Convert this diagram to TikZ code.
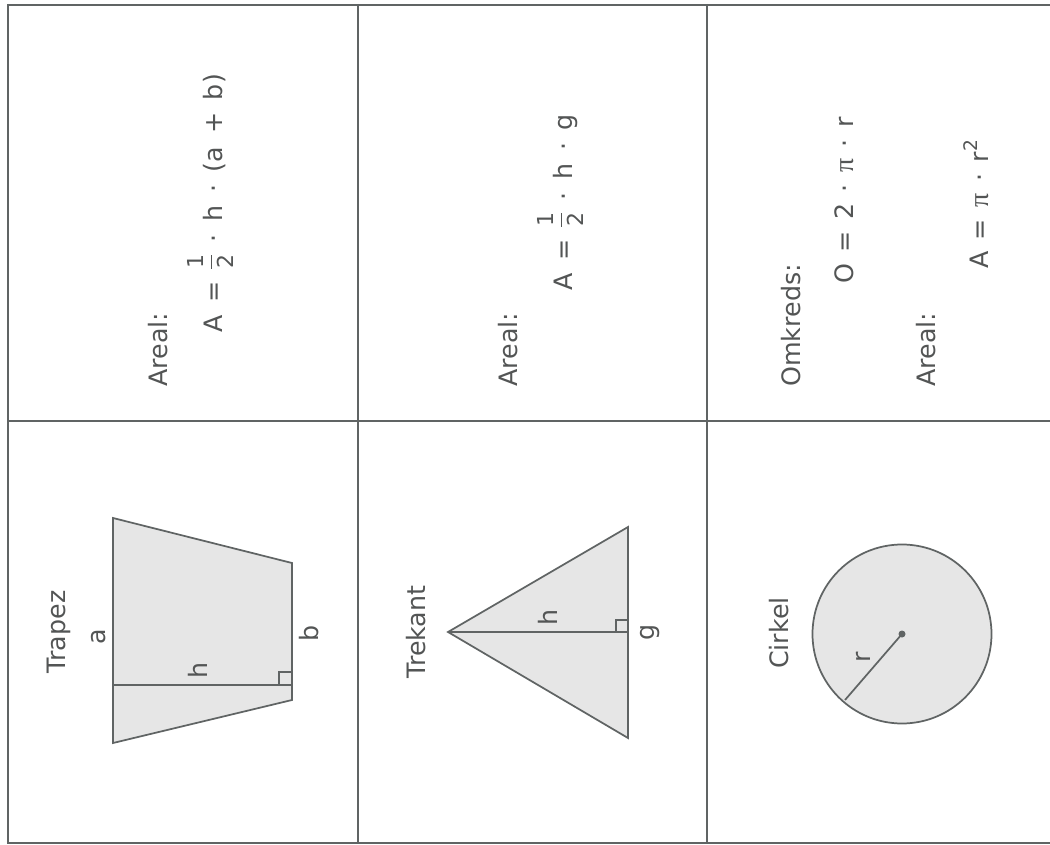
\documentclass[tikz,border=0pt]{standalone}
\usepackage{fontspec}
\setmainfont{DejaVu Sans}
\newfontfamily\pifont{Liberation Serif}
\definecolor{txt}{HTML}{535555}
\definecolor{ln}{HTML}{606464}
\definecolor{shp}{HTML}{E6E6E6}
\newlength\digw
\newcommand{\fmlfont}{\fontsize{19}{23}\selectfont\spaceskip=0.45em plus 0pt minus 0pt\relax}
\newcommand{\fmlfontw}{\fontsize{19}{23}\selectfont\spaceskip=0.5em plus 0pt minus 0pt\relax}
\tikzset{
  tbl/.style={draw=ln, line width=2pt},
  figshape/.style={draw=ln, fill=shp, line width=1.3pt, line join=miter},
  thinline/.style={draw=ln, line width=1.3pt},
  lbl/.style={text=txt, font=\fontsize{19}{23}\selectfont, rotate=90, inner sep=0pt, anchor=base},
  txtw/.style={text=txt, font=\fontsize{19}{23}\selectfont, rotate=90, inner sep=0pt, anchor=base west},
  fml/.style={txtw, font={\fmlfont}},
  fmlw/.style={txtw, font={\fmlfontw}},
}
\newcommand{\half}{{\fontsize{16.5}{16.5}\selectfont\settowidth{\digw}{2}%
  \makebox[\digw][c]{\rlap{\raisebox{14pt}{1}}\rlap{\raisebox{7.2pt}{\rule{\digw}{0.9pt}}}\raisebox{-8.6pt}{2}}}}
\newcommand{\pisym}{{\pifont\fontsize{21}{23}\selectfont π}}
\newcommand{\sqr}{\raisebox{0.42em}{\fontsize{14}{14}\selectfont 2}}
\begin{document}
\begin{tikzpicture}[x=0.75pt,y=-0.75pt]
\useasboundingbox (0,0) rectangle (1050,845);
% table
\draw[tbl] (8,5) -- (1050,5);
\draw[tbl] (8,843) -- (1050,843);
\draw[tbl] (8,421) -- (1050,421);
\draw[tbl] (8,4) -- (8,844);
\draw[tbl] (358,4) -- (358,844);
\draw[tbl] (707,4) -- (707,844);
% top row texts
\node[txtw] (ar1) at (167,387) {Areal:};
\node[fmlw] (f1) at (222,333) {A = \half{} · h · (a + b)};
\node[txtw] (ar2) at (517,387) {Areal:};
\node[fmlw] (f2) at (572,291) {A = \half{} · h · g};
\node[txtw] (om) at (800,387) {Omkreds:};
\node[fml] (f3) at (853,284) {O = 2 · \pisym{} · r};
\node[txtw] (ar3) at (935,387) {Areal:};
\node[fml] (f4) at (988,269) {A = \pisym{} · r\sqr};
% trapezoid
\coordinate (t1) at (113,518);
\coordinate (t2) at (292,563);
\coordinate (t3) at (292,700);
\coordinate (t4) at (113,743);
\coordinate (th1) at (113,685);
\coordinate (th2) at (292,685);
\draw[figshape] (t1) -- (t2) -- (t3) -- (t4) -- cycle;
\draw[thinline] (th1) -- (th2);
\draw[thinline] (279,685) -- (279,672) -- (292,672);
\node[lbl] (trapez) at (65,632) {Trapez};
\node[lbl] (la) at (105,637) {a};
\node[lbl] (lb) at (318,633) {b};
\node[lbl] (lh1) at (207,670) {h};
% triangle
\coordinate (k1) at (448,632);
\coordinate (k2) at (628,527);
\coordinate (k3) at (628,738);
\coordinate (kf) at (628,632);
\draw[figshape] (k1) -- (k2) -- (k3) -- cycle;
\draw[thinline] (k1) -- (kf);
\draw[thinline] (616,632) -- (616,620) -- (628,620);
\node[lbl] (trekant) at (425,632) {Trekant};
\node[lbl] (lh2) at (557,617) {h};
\node[lbl] (lg) at (654,632) {g};
% circle
\coordinate (c) at (902,634);
\draw[figshape] (c) circle[radius=89.5];
\draw[thinline] (c) -- (845,700);
\fill[ln] (c) circle[radius=3.5];
\node[lbl] (cirkel) at (788,633) {Cirkel};
\node[lbl] (lr) at (870,657) {r};
\end{tikzpicture}
\end{document}
